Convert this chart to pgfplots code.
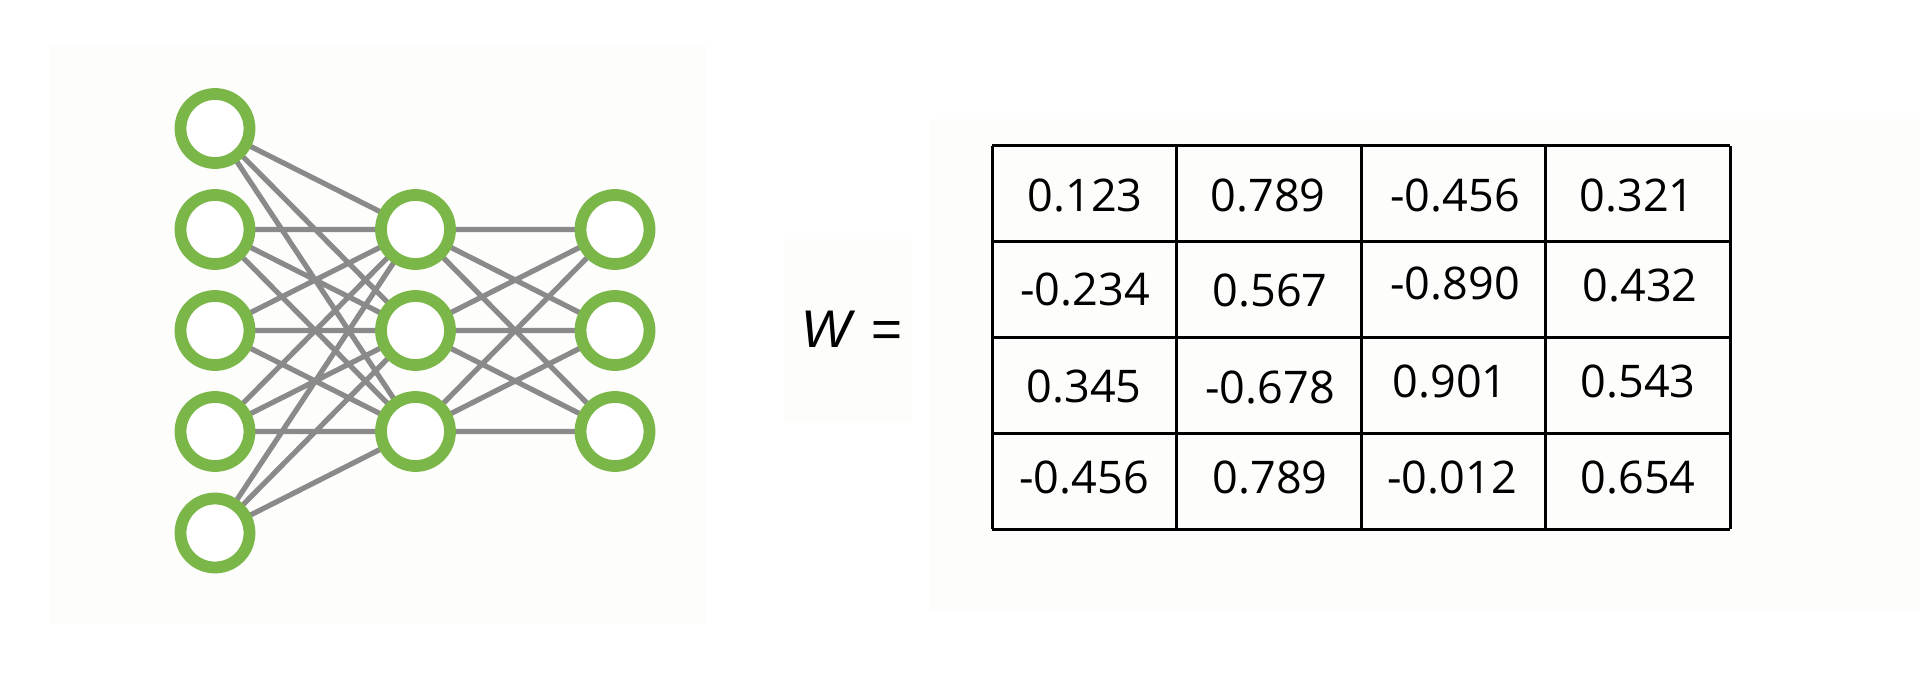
\documentclass[border=0pt]{standalone}
\usepackage{pgfplots}
\pgfplotsset{compat=1.18}
\usepackage{fontspec}
\setmainfont{Open Sans}
\newfontfamily\wfont{Liberation Sans}
\definecolor{nodegreen}{RGB}{122,182,72}
\definecolor{edgegray}{RGB}{138,138,138}
\definecolor{panel}{RGB}{253,253,252}
\begin{document}
\begin{tikzpicture}
\begin{axis}[
  width=960pt, height=341.5pt, scale only axis,
  xmin=0, xmax=1920, ymin=0, ymax=683, y dir=reverse,
  hide axis, clip=false,
  unbounded coords=jump,
]
% page background
\addplot[fill=white, draw=none] coordinates {(0,0) (1920,0) (1920,683) (0,683)} -- cycle;
% faint panels
\addplot[fill=panel, draw=none] coordinates {(50,44) (706,44) (706,624) (50,624)} -- cycle;
\addplot[fill=panel, draw=none] coordinates {(930,119) (1920,119) (1920,612) (930,612)} -- cycle;
\addplot[fill=panel, draw=none] coordinates {(784,239) (912,239) (912,422) (784,422)} -- cycle;
% edges input -> hidden -> output
\addplot[edgegray, line width=2.6pt] coordinates {
(215,128.5) (415.5,229.5) (0,nan)
(215,128.5) (415.5,330.5) (0,nan)
(215,128.5) (415.5,431.5) (0,nan)
(215,229.5) (415.5,229.5) (0,nan)
(215,229.5) (415.5,330.5) (0,nan)
(215,229.5) (415.5,431.5) (0,nan)
(215,330.5) (415.5,229.5) (0,nan)
(215,330.5) (415.5,330.5) (0,nan)
(215,330.5) (415.5,431.5) (0,nan)
(215,431.5) (415.5,229.5) (0,nan)
(215,431.5) (415.5,330.5) (0,nan)
(215,431.5) (415.5,431.5) (0,nan)
(215,533) (415.5,229.5) (0,nan)
(215,533) (415.5,330.5) (0,nan)
(215,533) (415.5,431.5) (0,nan)
(415.5,229.5) (615,229.5) (0,nan)
(415.5,229.5) (615,330.5) (0,nan)
(415.5,229.5) (615,431.5) (0,nan)
(415.5,330.5) (615,229.5) (0,nan)
(415.5,330.5) (615,330.5) (0,nan)
(415.5,330.5) (615,431.5) (0,nan)
(415.5,431.5) (615,229.5) (0,nan)
(415.5,431.5) (615,330.5) (0,nan)
(415.5,431.5) (615,431.5)
};
% neurons
\addplot[only marks, mark=*, mark size=17.25pt,
  mark options={fill=white, draw=nodegreen, line width=5.9pt}] coordinates {
(215,128.5) (215,229.5) (215,330.5) (215,431.5) (215,533)
(415.5,229.5) (415.5,330.5) (415.5,431.5)
(615,229.5) (615,330.5) (615,431.5)
};
% table grid
\addplot[black, line width=1.5pt] coordinates {
(992,146) (1730,146) (0,nan)
(992,241.75) (1730,241.75) (0,nan)
(992,337.5) (1730,337.5) (0,nan)
(992,433.25) (1730,433.25) (0,nan)
(992,529) (1730,529) (0,nan)
(992,146) (992,529) (0,nan)
(1176.5,146) (1176.5,529) (0,nan)
(1361,146) (1361,529) (0,nan)
(1545.5,146) (1545.5,529) (0,nan)
(1730,146) (1730,529)
};
% table values
\addplot[draw=none, mark=none, nodes near coords, point meta=explicit symbolic,
  nodes near coords align={center},
  every node near coord/.append style={font=\fontsize{22.5pt}{26pt}\selectfont, anchor=center, inner sep=0pt}]
  table[meta=label] {
x y label
1085 196 0.123
1268 196 0.789
1455 196 -0.456
1637 196 0.321
1085 290 -0.234
1270 291 0.567
1455 284 -0.890
1640 286 0.432
1084 387 0.345
1270 388 -0.678
1450 382 0.901
1638 382 0.543
1084 478 -0.456
1270 478 0.789
1452 478 -0.012
1638 478 0.654
};
\node[anchor=center, inner sep=0pt] at (axis cs:852,329) {\wfont\fontsize{26.5pt}{30pt}\selectfont\itshape W\upshape\ \kern3pt=};
\end{axis}
\end{tikzpicture}
\end{document}
